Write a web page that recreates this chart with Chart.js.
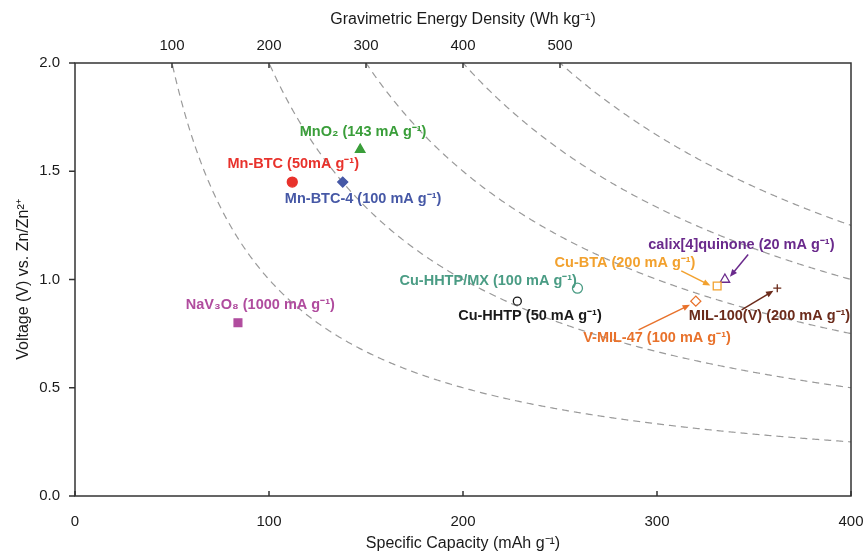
<!DOCTYPE html>
<html>
<head>
<meta charset="utf-8">
<script src="https://cdn.jsdelivr.net/npm/chart.js@4.4.1/dist/chart.umd.min.js"></script>
<style>
  html, body { margin: 0; padding: 0; background: #fff; }
  #wrap { width: 865px; height: 553px; }
</style>
</head>
<body>
<div id="wrap"><canvas id="energyChart"></canvas></div>
<script>
// data
const materials = [
  "MnO₂ (143 mA g⁻¹)",
  "Mn-BTC (50mA g⁻¹)",
  "Mn-BTC-4 (100 mA g⁻¹)",
  "NaV₃O₈ (1000 mA g⁻¹)",
  "Cu-HHTP/MX (100 mA g⁻¹)",
  "Cu-HHTP (50 mA g⁻¹)",
  "Cu-BTA (200 mA g⁻¹)",
  "calix[4]quinone (20 mA g⁻¹)",
  "V-MIL-47 (100 mA g⁻¹)",
  "MIL-100(V) (200 mA g⁻¹)",
];
const capacity = [147, 112, 138, 84, 259, 228, 331, 335, 320, 362];
const voltage = [1.60, 1.45, 1.45, 0.80, 0.96, 0.90, 0.97, 1.00, 0.90, 0.96];

const energyLevels = [100, 200, 300, 400, 500]; // Wh/kg, dashed guide curves
const topTicks = [100, 200, 300, 400, 500];
const bottomTicks = [0, 100, 200, 300, 400];
const voltageTicks = [0, 0.5, 1.0, 1.5, 2.0];

// styles per material
const colors = ["#3a9e3a", "#e8322c", "#4658a6", "#b04c9e", "#4a9c84", "#1a1a1a", "#f2a12e", "#6a2a8c", "#e8722c", "#6b2b1b"];
const shapes = ["triangle", "circle", "rectRot", "rect", "circle", "circle", "rect", "triangle", "rectRot", "cross"];
const filled = [true, true, true, true, false, false, false, false, false, false];
const sizes = [5.5, 5, 5, 5.5, 5, 4, 5.5, 5.5, 5, 4];

// label anchors (data units) and arrows
const labelX = [148.5, 112.5, 148.5, 95.5, 213, 234.5, 283.5, 343.5, 300, 358];
const labelY = [1.68, 1.535, 1.37, 0.88, 0.995, 0.83, 1.075, 1.16, 0.73, 0.83];
const arrows = [
  { i: 6, from: [312.5, 1.04], to: [327.5, 0.972] },
  { i: 7, from: [347, 1.115], to: [337.6, 1.013] },
  { i: 8, from: [290.5, 0.767], to: [317, 0.883] },
  { i: 9, from: [343.6, 0.86], to: [360, 0.948] },
];

const FONT = "'Liberation Sans', Arial, Helvetica, sans-serif";

const datasets = materials.map((name, i) => ({
  label: name,
  data: [{ x: capacity[i], y: voltage[i] }],
  pointStyle: shapes[i],
  pointRadius: sizes[i],
  pointBorderWidth: 1.3,
  borderColor: colors[i],
  backgroundColor: filled[i] ? colors[i] : "#ffffff",
  xAxisID: "x",
  yAxisID: "y",
}));

const guideCurves = {
  id: "guideCurves",
  beforeDatasetsDraw(chart) {
    const { ctx, chartArea, scales } = chart;
    const x = scales.x, y = scales.y;
    ctx.save();
    ctx.beginPath();
    ctx.rect(chartArea.left, chartArea.top, chartArea.right - chartArea.left, chartArea.bottom - chartArea.top);
    ctx.clip();
    ctx.strokeStyle = "#9a9a9a";
    ctx.lineWidth = 1.2;
    ctx.setLineDash([7, 5]);
    energyLevels.forEach((e) => {
      ctx.beginPath();
      let started = false;
      for (let px = chartArea.left; px <= chartArea.right; px += 1) {
        const c = x.getValueForPixel(px);
        if (c <= 0) continue;
        const v = e / c;
        if (v > 2.05) continue;
        const py = y.getPixelForValue(v);
        if (!started) { ctx.moveTo(px, py); started = true; } else ctx.lineTo(px, py);
      }
      ctx.stroke();
    });
    ctx.restore();
  },
};

const frameAndLabels = {
  id: "frameAndLabels",
  afterDraw(chart) {
    const { ctx, chartArea, scales } = chart;
    const x = scales.x, x2 = scales.x2, y = scales.y;
    ctx.save();
    // frame
    ctx.strokeStyle = "#333";
    ctx.lineWidth = 1.5;
    ctx.strokeRect(chartArea.left, chartArea.top, chartArea.right - chartArea.left, chartArea.bottom - chartArea.top);
    // ticks: inward on top/bottom, outward on the left
    ctx.beginPath();
    bottomTicks.forEach((v) => {
      const px = x.getPixelForValue(v);
      ctx.moveTo(px, chartArea.bottom);
      ctx.lineTo(px, chartArea.bottom - 5);
    });
    topTicks.forEach((v) => {
      const px = x2.getPixelForValue(v);
      ctx.moveTo(px, chartArea.top);
      ctx.lineTo(px, chartArea.top + 5);
    });
    voltageTicks.forEach((v) => {
      const py = y.getPixelForValue(v);
      ctx.moveTo(chartArea.left, py);
      ctx.lineTo(chartArea.left - 6, py);
    });
    ctx.stroke();

    // arrows
    arrows.forEach((a) => {
      const x0 = x.getPixelForValue(a.from[0]), y0 = y.getPixelForValue(a.from[1]);
      const x1 = x.getPixelForValue(a.to[0]), y1 = y.getPixelForValue(a.to[1]);
      const ang = Math.atan2(y1 - y0, x1 - x0);
      const head = 8;
      ctx.strokeStyle = colors[a.i];
      ctx.fillStyle = colors[a.i];
      ctx.lineWidth = 1.5;
      ctx.beginPath();
      ctx.moveTo(x0, y0);
      ctx.lineTo(x1 - head * 0.8 * Math.cos(ang), y1 - head * 0.8 * Math.sin(ang));
      ctx.stroke();
      ctx.beginPath();
      ctx.moveTo(x1, y1);
      ctx.lineTo(x1 - head * Math.cos(ang - 0.4), y1 - head * Math.sin(ang - 0.4));
      ctx.lineTo(x1 - head * Math.cos(ang + 0.4), y1 - head * Math.sin(ang + 0.4));
      ctx.closePath();
      ctx.fill();
    });

    // point labels
    ctx.font = "bold 14.5px " + FONT;
    ctx.textAlign = "center";
    ctx.textBaseline = "middle";
    materials.forEach((name, i) => {
      ctx.fillStyle = colors[i];
      ctx.fillText(name, x.getPixelForValue(labelX[i]), y.getPixelForValue(labelY[i]));
    });
    ctx.restore();
  },
};

new Chart(document.getElementById("energyChart"), {
  type: "scatter",
  data: { datasets },
  options: {
    responsive: true,
    maintainAspectRatio: false,
    animation: false,
    layout: { padding: { right: 14, left: 0, top: 0, bottom: 0 } },
    plugins: { legend: { display: false }, tooltip: { enabled: false } },
    scales: {
      x: {
        type: "linear",
        position: "bottom",
        min: 0,
        max: 400,
        afterBuildTicks: (s) => { s.ticks = bottomTicks.map((v) => ({ value: v })); },
        grid: { display: false, drawTicks: false },
        border: { display: false },
        ticks: { color: "#1a1a1a", font: { family: FONT, size: 15 }, padding: 17, maxRotation: 0 },
        title: { display: true, text: "Specific Capacity (mAh g⁻¹)", color: "#1a1a1a", font: { family: FONT, size: 16 }, padding: { top: 2, bottom: 0 } },
        afterFit: (s) => { s.height = 57; s.paddingLeft = 0; s.paddingRight = 0; },
      },
      x2: {
        type: "linear",
        position: "top",
        min: 0,
        max: 800,
        afterBuildTicks: (s) => { s.ticks = topTicks.map((v) => ({ value: v })); },
        grid: { display: false, drawTicks: false },
        border: { display: false },
        ticks: { color: "#1a1a1a", font: { family: FONT, size: 15 }, padding: 8, maxRotation: 0 },
        title: { display: true, text: "Gravimetric Energy Density (Wh kg⁻¹)", color: "#1a1a1a", font: { family: FONT, size: 16 }, padding: { top: 10, bottom: 6 } },
        afterFit: (s) => { s.height = 63; s.paddingLeft = 0; s.paddingRight = 0; },
      },
      y: {
        type: "linear",
        min: 0,
        max: 2,
        afterBuildTicks: (s) => { s.ticks = voltageTicks.map((v) => ({ value: v })); },
        grid: { display: false, drawTicks: false },
        border: { display: false },
        ticks: { color: "#1a1a1a", font: { family: FONT, size: 15 }, padding: 15, callback: (v) => Number(v).toFixed(1) },
        title: { display: true, text: "Voltage (V) vs. Zn/Zn²⁺", color: "#1a1a1a", font: { family: FONT, size: 16 }, padding: { top: 14, bottom: 4 } },
        afterFit: (s) => { s.width = 75; s.paddingTop = 0; s.paddingBottom = 0; },
      },
    },
  },
  plugins: [guideCurves, frameAndLabels],
});
</script>
</body>
</html>
